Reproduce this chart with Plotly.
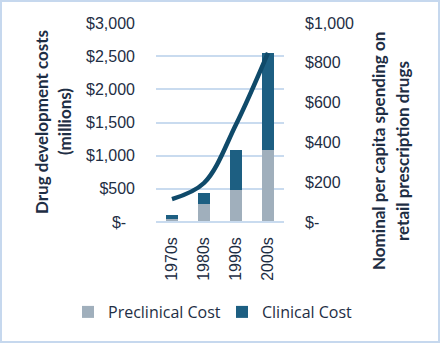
import plotly.graph_objects as go

# Decades of drug development
decades = ["1970s", "1980s", "1990s", "2000s"]

# Drug development costs, $ millions
preclinical_cost = [45, 276, 480, 1080]
clinical_cost = [60, 165, 600, 1470]

# Nominal per capita spending on retail prescription drugs, $
per_capita_spending = [115, 196, 490, 850]

left_ticks = [0, 500, 1000, 1500, 2000, 2500, 3000]
left_tick_text = ["$-\u00a0\u00a0", "$500", "$1,000", "$1,500", "$2,000", "$2,500", "$3,000"]
right_ticks = [0, 200, 400, 600, 800, 1000]
right_tick_text = ["$-", "$200", "$400", "$600", "$800", "$1,000"]

W, H = 440, 343
ML, MR, MT, MB = 156, 156, 23, 121
PW, PH = W - ML - MR, H - MT - MB

TEXT = "#1E2E44"
GRID = "#C9DBEF"
TICK_FONT = dict(family="Liberation Sans, Arial, sans-serif", size=16, color=TEXT)
TITLE_FONT = dict(family="Lato, sans-serif", size=17, color=TEXT)
LEGEND_FONT = dict(family="Open Sans, sans-serif", size=16, color=TEXT)


def px_x(x):
    return (x - ML) / PW


def px_y(y):
    return (H - MB - y) / PH


def title_line(text, x, y):
    return dict(text="<b>" + text + "</b>", textangle=-90,
                xref="paper", yref="paper", x=px_x(x), y=px_y(y),
                xanchor="center", yanchor="middle", showarrow=False,
                font=TITLE_FONT)


def legend_box(left_px):
    return dict(orientation="h", x=px_x(left_px), xanchor="left",
                y=px_y(312), yanchor="middle", font=LEGEND_FONT,
                itemwidth=30, bgcolor="rgba(0,0,0,0)", borderwidth=0)


fig = go.Figure()

fig.add_trace(go.Bar(
    x=decades, y=preclinical_cost, name="Preclinical Cost", legend="legend",
    marker=dict(color="#A0AFBC", line=dict(width=0)),
))
fig.add_trace(go.Bar(
    x=decades, y=clinical_cost, name="Clinical Cost", legend="legend2",
    marker=dict(color="#1D5F82", line=dict(width=0)),
))
fig.add_trace(go.Scatter(
    x=decades, y=per_capita_spending, yaxis="y2", mode="lines",
    line=dict(color="#0F4A6A", width=4.5, shape="spline", smoothing=1.0),
    showlegend=False,
))

fig.update_layout(
    width=W, height=H,
    margin=dict(l=ML, r=MR, t=MT, b=MB, autoexpand=False),
    paper_bgcolor="white", plot_bgcolor="white",
    barmode="stack", bargap=0.6,
    showlegend=True,
    legend=legend_box(68),
    legend2=legend_box(222),
    xaxis=dict(
        type="category", showgrid=False, showline=False, zeroline=False,
        tickangle=-90, tickfont=TICK_FONT, ticks="", ticklabelstandoff=11,
    ),
    yaxis=dict(
        range=[0, 3000], tickvals=left_ticks, ticktext=left_tick_text,
        showgrid=True, gridcolor=GRID, gridwidth=2, zeroline=False,
        showline=False, ticks="", tickfont=TICK_FONT, ticklabelstandoff=20,
    ),
    yaxis2=dict(
        range=[0, 1000], tickvals=right_ticks, ticktext=right_tick_text,
        overlaying="y", side="right", showgrid=False, zeroline=False,
        showline=False, ticks="", tickfont=TICK_FONT, ticklabelstandoff=20,
    ),
    annotations=[
        title_line("Drug development costs", 41, 122),
        title_line("(millions)", 64, 122),
        title_line("Nominal per capita spending on", 378, 151),
        title_line("retail prescription drugs", 402, 151),
    ],
    shapes=[
        # x-axis baseline
        dict(type="line", xref="paper", yref="paper", x0=0, x1=1, y0=0, y1=0,
             line=dict(color=GRID, width=2), layer="above"),
        # chart frame
        dict(type="rect", xref="paper", yref="paper",
             x0=px_x(1), x1=px_x(W - 1), y0=px_y(H - 1), y1=px_y(1),
             line=dict(color="#C6D8EE", width=2), fillcolor="rgba(0,0,0,0)"),
    ],
)

fig.write_html("out.html")
